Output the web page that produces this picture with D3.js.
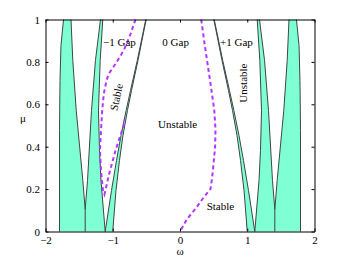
<!DOCTYPE html>
<html>
<head>
<meta charset="utf-8">
<script src="https://cdn.jsdelivr.net/npm/d3@7"></script>
<style>
  body{margin:0;background:#fff}
  svg text{font-family:"Liberation Serif","DejaVu Serif",serif;font-size:11px;fill:#000}
</style>
</head>
<body>
<svg id="chart" width="346" height="260"></svg>
<script>
const xTicks=[-2,-1,0,1,2];
const yTicks=[0,0.2,0.4,0.6,0.8,1];

// tongue boundaries as [omega, mu]
// right side (omega > 0)
const d1R=[[0.503,1],[0.625,0.807],[0.721,0.665],[0.781,0.571],[0.848,0.453],[0.900,0.335],[0.952,0.193],[1.0,0]];
const d2R=[[0.509,1],[0.635,0.807],[0.736,0.665],[0.801,0.571],[0.877,0.453],[0.944,0.335],[1.019,0.193],[1.112,0]];
const eR=[[1.148,1],[1.187,0.807],[1.212,0.571],[1.197,0.382],[1.175,0.241],[1.112,0]];
const fR=[[1.182,1],[1.257,0.807],[1.316,0.571],[1.375,0.241],[1.41,0.104]];
const gR=[[1.621,1],[1.594,0.807],[1.543,0.571],[1.445,0.241],[1.41,0.104]];
const hR=[[1.732,1],[1.770,0.877],[1.784,0.712],[1.792,0.476],[1.792,0]];
const stemR=[[1.41,0.104],[1.41,0]];
// left side (omega < 0)
const d1L=[[-0.503,1],[-0.625,0.807],[-0.721,0.665],[-0.781,0.571],[-0.848,0.453],[-0.900,0.335],[-0.952,0.193],[-1.0,0]];
const d2L=[[-0.509,1],[-0.635,0.807],[-0.736,0.665],[-0.801,0.571],[-0.877,0.453],[-0.944,0.335],[-1.019,0.193],[-1.112,0]];
const eL=[[-1.148,1],[-1.187,0.807],[-1.212,0.571],[-1.197,0.382],[-1.175,0.241],[-1.112,0]];
const fL=[[-1.182,1],[-1.257,0.807],[-1.316,0.571],[-1.375,0.241],[-1.41,0.104]];
const gL=[[-1.621,1],[-1.594,0.807],[-1.543,0.571],[-1.445,0.241],[-1.41,0.104]];
const hL=[[-1.732,1],[-1.770,0.877],[-1.784,0.712],[-1.792,0.476],[-1.792,0]];
const stemL=[[-1.41,0.104],[-1.41,0]];

// dashed stability borders
const dashLeft=[[-0.662,1],[-0.736,0.931],[-0.836,0.854],[-0.959,0.791],[-1.059,0.744],[-1.093,0.712],
  [-1.133,0.650],[-1.157,0.571],[-1.175,0.476],[-1.19,0.382],[-1.175,0.288],[-1.145,0.193],[-1.123,0.175],
  [-1.048,0.278],[-0.959,0.382],[-0.90,0.44],[-0.836,0.5],[-0.82,0.53]];
const dashRight=[[0.315,1],[0.38,0.854],[0.454,0.697],[0.51,0.571],[0.528,0.48],[0.522,0.40],[0.503,0.335],
  [0.479,0.256],[0.454,0.201],[0.354,0.162],[0.23,0.107],[0.107,0.06],[0,0]];

const labels=[
  {t:"\u22121 Gap",w:-1.145,m:0.873,r:0,a:"start"},
  {t:"0 Gap",w:-0.263,m:0.873,r:0,a:"start"},
  {t:"+1 Gap",w:0.595,m:0.873,r:0,a:"start"},
  {t:"Unstable",w:-0.327,m:0.486,r:0,a:"start"},
  {t:"Stable",w:0.397,m:0.101,r:0,a:"start"},
  {t:"Stable",w:-0.947,m:0.634,r:-78,a:"middle"},
  {t:"Unstable",w:0.941,m:0.700,r:-90,a:"middle"}
];

const cyan="#7fffd4", edge="#3e4646", purple="#b136ff";

const svg=d3.select("#chart");
const x=d3.scaleLinear().domain([-2,2]).range([45.5,314.5]);
const y=d3.scaleLinear().domain([0,1]).range([231.5,19.5]);
const line=d3.line().x(d=>x(d[0])).y(d=>y(d[1]));

const sides=[
  {d1:d1R,d2:d2R,e:eR,f:fR,g:gR,h:hR,stem:stemR},
  {d1:d1L,d2:d2L,e:eL,f:fL,g:gL,h:hL,stem:stemL}
];

const plot=svg.append("g");
sides.forEach(s=>{
  plot.append("path")
      .attr("d",line(s.d1.concat(s.d2.slice().reverse()))+"Z")
      .attr("fill",cyan);
  plot.append("path")
      .attr("d",line(s.e.concat(s.h.slice().reverse(),s.g,s.f.slice().reverse()))+"Z")
      .attr("fill",cyan);
});
sides.forEach(s=>{
  [s.d1,s.d2,s.e,s.f,s.g,s.h,s.stem].forEach(c=>{
    plot.append("path").attr("d",line(c))
        .attr("fill","none").attr("stroke",edge).attr("stroke-width",1);
  });
});

[dashLeft,dashRight].forEach(c=>{
  plot.append("path").attr("d",line(c))
      .attr("fill","none").attr("stroke",purple)
      .attr("stroke-width",2).attr("stroke-dasharray","4,3");
});

svg.append("g").selectAll("text").data(labels).enter()
   .append("text")
   .attr("text-anchor",d=>d.a)
   .attr("dy",d=>d.r?"0.35em":null)
   .attr("transform",d=>"translate("+x(d.w)+","+y(d.m)+") rotate("+d.r+")")
   .text(d=>d.t);

// axes, MATLAB style with inward ticks on all four sides
const fmt=d3.format("~g");
const axes=[
  svg.append("g").attr("transform","translate(0,231.5)")
     .call(d3.axisBottom(x).tickValues(xTicks).tickFormat(fmt).tickSize(-3).tickSizeOuter(0).tickPadding(4.5)),
  svg.append("g").attr("transform","translate(45.5,0)")
     .call(d3.axisLeft(y).tickValues(yTicks).tickFormat(fmt).tickSize(-3).tickSizeOuter(0).tickPadding(5.5)),
  svg.append("g").attr("transform","translate(0,19.5)")
     .call(d3.axisTop(x).tickValues(xTicks).tickFormat("").tickSize(-3).tickSizeOuter(0)),
  svg.append("g").attr("transform","translate(314.5,0)")
     .call(d3.axisRight(y).tickValues(yTicks).tickFormat("").tickSize(-3).tickSizeOuter(0))
];
axes.forEach(a=>a.attr("font-family",null).attr("font-size",null));
svg.selectAll(".domain, .tick line").attr("stroke","#000");

svg.append("text").attr("x",23).attr("y",122).attr("text-anchor","middle").text("\u03bc");
svg.append("text").attr("x",x(0)).attr("y",255).attr("text-anchor","middle").text("\u03c9");
</script>
</body>
</html>
